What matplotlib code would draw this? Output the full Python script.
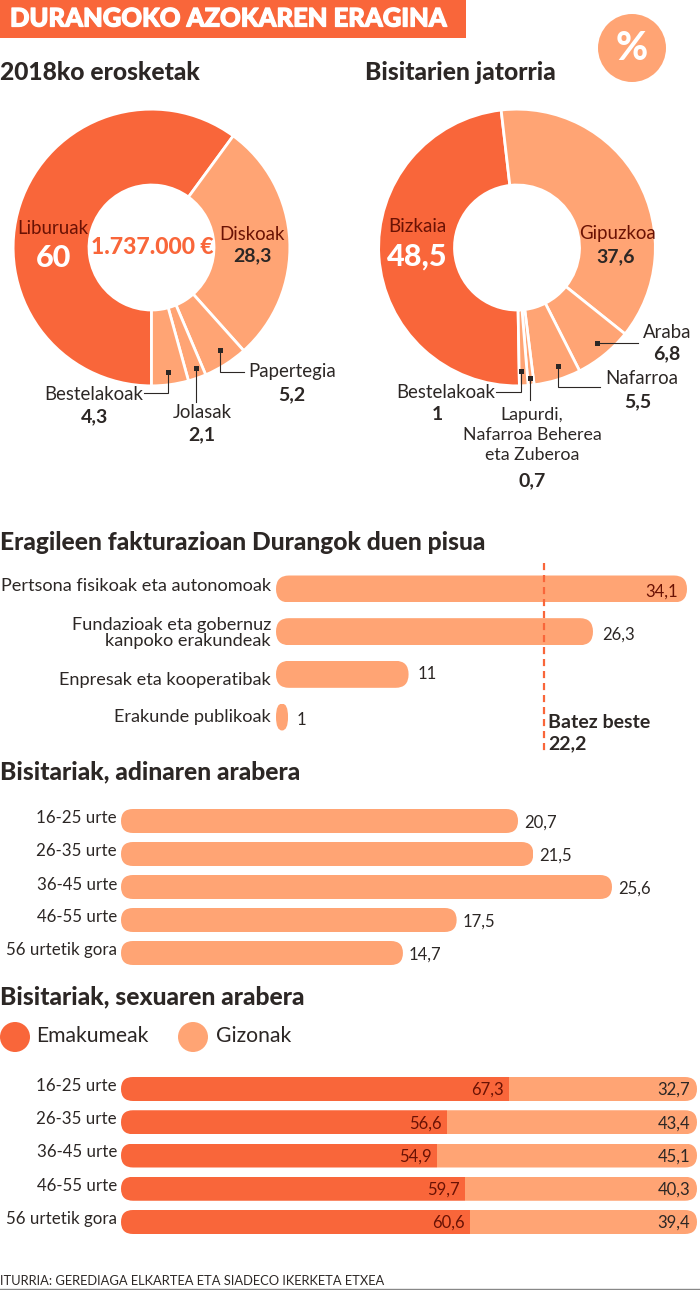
"""Durango fair infographic: two donuts and three rounded bar panels."""
import matplotlib as mpl
mpl.use("Agg")
import matplotlib.pyplot as plt
import matplotlib.patheffects as pe
from matplotlib.patches import Circle, Rectangle
from matplotlib.path import Path

plt.rcParams["font.family"] = ["Lato", "DejaVu Sans"]

W, H = 700, 1290
DARK = "#F9663A"
LIGHT = "#FFA474"
INK = "#2C2725"
RED_INK = "#6A1204"

purchase_labels = ["Liburuak", "Diskoak", "Papertegia", "Jolasak", "Bestelakoak"]
purchase_values = [60, 28.3, 5.2, 2.1, 4.3]
origin_labels = ["Bizkaia", "Gipuzkoa", "Araba", "Nafarroa",
                 "Lapurdi,\nNafarroa Beherea\neta Zuberoa", "Bestelakoak"]
origin_values = [48.5, 37.6, 6.8, 5.5, 0.7, 1]

agent_labels = ["Pertsona fisikoak eta autonomoak",
                "Fundazioak eta gobernuz\nkanpoko erakundeak",
                "Enpresak eta kooperatibak", "Erakunde publikoak"]
agent_values = [34.1, 26.3, 11, 1]
agent_mean = 22.2

age_labels = ["16-25 urte", "26-35 urte", "36-45 urte", "46-55 urte", "56 urtetik gora"]
age_values = [20.7, 21.5, 25.6, 17.5, 14.7]
women_values = [67.3, 56.6, 54.9, 59.7, 60.6]
men_values = [32.7, 43.4, 45.1, 40.3, 39.4]


def fmt(v):
    return f"{v:g}".replace(".", ",")


def axes_px(fig, x0, y0, x1, y1):
    # pixel box, y measured from the top of the figure
    return fig.add_axes([x0 / W, 1 - y1 / H, (x1 - x0) / W, (y1 - y0) / H])


def rounded_path(x0, x1, y, h, rx, ry_frac=0.5):
    rx = min(rx, (x1 - x0) / 2)
    top, bot = y - h / 2, y + h / 2
    ry = h * ry_frac
    verts = [(x0 + rx, top), (x1 - rx, top), (x1, top), (x1, top + ry),
             (x1, bot - ry), (x1, bot), (x1 - rx, bot), (x0 + rx, bot),
             (x0, bot), (x0, bot - ry), (x0, top + ry), (x0, top), (x0 + rx, top)]
    codes = [Path.MOVETO, Path.LINETO, Path.CURVE3, Path.CURVE3, Path.LINETO,
             Path.CURVE3, Path.CURVE3, Path.LINETO, Path.CURVE3, Path.CURVE3,
             Path.LINETO, Path.CURVE3, Path.CURVE3]
    return Path(verts, codes)


def bar_panel(fig, x0, x1, centers, xmax, bar_h, radius=13):
    step = (centers[-1] - centers[0]) / (len(centers) - 1)
    ax = axes_px(fig, x0, centers[0] - step / 2, x1, centers[-1] + step / 2)
    ax.set_xlim(0, xmax)
    ax.set_ylim(len(centers) - 0.5, -0.5)
    ax.axis("off")
    ax.patch.set_alpha(0)
    return ax, bar_h / step, radius * xmax / (x1 - x0)


def rounded_barh(ax, i, left, width, full_left, full_right, h, rx, color):
    bars = ax.barh(i, width, left=left, height=h, color=color, lw=0)
    bars[0].set_clip_path(rounded_path(full_left, full_right, i, h, rx), ax.transData)


def label_left(ov, x, ys, labels, size=13.1):
    for y, lab in zip(ys, labels):
        ov.text(x, y, lab, ha="right", va="center", fontsize=size, color=INK,
                linespacing=1.0)


fig = plt.figure(figsize=(W / 100, H / 100), dpi=100, facecolor="white")

# donuts
for vals, cx, cols, start in [
    (purchase_values, 151.5, [DARK] + [LIGHT] * 4, 270),
    (origin_values, 517, [DARK] + [LIGHT] * 5, 271),
]:
    R = 137.0
    ax = axes_px(fig, cx - 140, 247.5 - 140, cx + 140, 247.5 + 140)
    ax.pie(vals, startangle=start, counterclock=False, colors=cols, radius=1.01,
           wedgeprops=dict(width=1.01 - 62.5 / R, edgecolor="white", linewidth=2.0))
    ax.set_xlim(-140 / R, 140 / R)
    ax.set_ylim(-140 / R, 140 / R)

# agents panel
ax, h, rx = bar_panel(fig, 276, 687, [589, 631.7, 674.3, 717], 34.1, 27)
for i, v in enumerate(agent_values):
    rounded_barh(ax, i, 0, v, 0, v, h, rx, LIGHT)
    if i == 0:
        ax.annotate(fmt(v), (v, i), xytext=(-9, -3), textcoords="offset pixels",
                    ha="right", va="center", fontsize=12, color=RED_INK)
    else:
        ax.annotate(fmt(v), (v, i), xytext=(9, [0, -3, 0, -3][i]), textcoords="offset pixels",
                    ha="left", va="center", fontsize=12, color=INK)
step = 42.67
ax.vlines(agent_mean, (563 - 589) / step, (752 - 589) / step, color=DARK, lw=1.6,
          linestyles=(0, (3.2, 2.2)), clip_on=False)

# age panel
ax, h, rx = bar_panel(fig, 121, 612, [821, 854, 887, 920, 953], 25.6, 24, radius=12)
for i, v in enumerate(age_values):
    rounded_barh(ax, i, 0, v, 0, v, h, rx, LIGHT)
    ax.annotate(fmt(v), (v, i), xytext=(6, -2), textcoords="offset pixels",
                ha="left", va="center", fontsize=12, color=INK)

# sex panel
ax, h, rx = bar_panel(fig, 121, 697, [1089, 1122.25, 1155.5, 1188.75, 1222], 100, 24, radius=12)
for i, (a, b) in enumerate(zip(women_values, men_values)):
    rounded_barh(ax, i, 0, a, 0, a + b, h, rx, DARK)
    rounded_barh(ax, i, a, b, 0, a + b, h, rx, LIGHT)
    ax.annotate(fmt(a), (a, i), xytext=(-5, -1), textcoords="offset pixels",
                ha="right", va="center", fontsize=12, color=RED_INK)
    ax.annotate(fmt(b), (a + b, i), xytext=(-7, -1), textcoords="offset pixels",
                ha="right", va="center", fontsize=12, color=INK)

# everything else sits on a pixel overlay
ov = fig.add_axes([0, 0, 1, 1], zorder=10)
ov.set_xlim(0, W)
ov.set_ylim(H, 0)
ov.axis("off")
ov.patch.set_alpha(0)

ov.add_patch(Rectangle((0, 0), 466, 38, color=DARK, lw=0))
ov.text(10, 18.5, "DURANGOKO AZOKAREN ERAGINA", ha="left", va="center",
        fontsize=18.4, fontweight="black", color="white",
        path_effects=[pe.withStroke(linewidth=0.9, foreground="white")])
ov.add_patch(Circle((632, 48), 34, color=LIGHT, lw=0))
ov.text(632, 48, "%", ha="center", va="center", fontsize=28, fontweight="black", color="white")

for x, y, txt in [(0, 73, "2018ko erosketak"), (365, 73, "Bisitarien jatorria"),
                  (0, 542, "Eragileen fakturazioan Durangok duen pisua"),
                  (0, 772, "Bisitariak, adinaren arabera"),
                  (0, 997, "Bisitariak, sexuaren arabera")]:
    ov.text(x, y, txt, ha="left", va="center", fontsize=17.7, fontweight="black", color=INK)


def pair(x, y, name, value, dy=22, x2=None, col=INK, valcol=INK):
    ov.text(x, y, name, ha="center", va="center", fontsize=13.4, color=col)
    ov.text(x if x2 is None else x2, y + dy, value, ha="center", va="center",
            fontsize=14, fontweight="bold", color=valcol)


# donut 1 texts
ov.text(53, 229, purchase_labels[0], ha="center", va="center", fontsize=13.4, color=RED_INK)
ov.text(54, 258, fmt(purchase_values[0]), ha="center", va="center", fontsize=22,
        fontweight="black", color="white")
ov.text(152, 247, "1.737.000 €", ha="center", va="center", fontsize=16.5,
        fontweight="black", color=DARK)
pair(252, 234, purchase_labels[1], fmt(purchase_values[1]), col=RED_INK)
pair(292, 372, purchase_labels[2], fmt(purchase_values[2]), dy=23)
pair(202, 412, purchase_labels[3], fmt(purchase_values[3]), dy=23)
pair(94, 394, purchase_labels[4], fmt(purchase_values[4]), dy=23)

# donut 2 texts
ov.text(417, 227, origin_labels[0], ha="center", va="center", fontsize=13.6, color=RED_INK)
ov.text(417, 257, fmt(origin_values[0]), ha="center", va="center", fontsize=22,
        fontweight="black", color="white")
pair(618, 233, origin_labels[1], fmt(origin_values[1]), dy=24, x2=616, col=RED_INK)
pair(667, 332, origin_labels[2], fmt(origin_values[2]), dy=22)
pair(642, 379, origin_labels[3], fmt(origin_values[3]), dy=23, x2=638)
pair(446, 392, origin_labels[5], fmt(origin_values[5]), dy=23, x2=437)
ov.text(532, 435, origin_labels[4], ha="center", va="center",
        fontsize=12.8, color=INK, linespacing=1.3)
ov.text(532, 481, fmt(origin_values[4]), ha="center", va="center", fontsize=14,
        fontweight="bold", color=INK)

# leader lines, each starting at a small square dot
leaders = [
    [(168, 372), (168, 393), (144, 393)],
    [(196, 368), (196, 402)],
    [(220, 350), (220, 372), (244, 372)],
    [(597, 343), (638, 343)],
    [(558, 366), (558, 387), (600, 387)],
    [(521, 371), (521, 392), (496, 392)],
    [(530, 378), (530, 400)],
]
for pts in leaders:
    xs, ys = zip(*pts)
    ov.plot(xs, ys, color=INK, lw=0.8, solid_joinstyle="miter")
    ov.plot(xs[0], ys[0], marker="s", ms=3.6, color=INK, mew=0)

# bar labels
label_left(ov, 271, [586, 633, 680, 717], agent_labels)
label_left(ov, 117, [818, 851, 885, 917, 950], age_labels, size=12.2)
label_left(ov, 117, [1086, 1119, 1152, 1186, 1219], age_labels, size=12.2)

ov.text(548, 723, "Batez beste", ha="left", va="center", fontsize=14, fontweight="bold", color=INK)
ov.text(548, 744, fmt(agent_mean), ha="left", va="center", fontsize=14, fontweight="bold", color=INK)

# legend
ov.add_patch(Circle((15, 1037), 15, color=DARK, lw=0))
ov.add_patch(Circle((193, 1037), 15, color=LIGHT, lw=0))
ov.text(36, 1036, "Emakumeak", ha="left", va="center", fontsize=15.2, color=INK)
ov.text(216, 1036, "Gizonak", ha="left", va="center", fontsize=15.2, color=INK)

# source
ov.text(0, 1281, "ITURRIA: GEREDIAGA ELKARTEA ETA SIADECO IKERKETA ETXEA", ha="left",
        va="center", fontsize=9.3, color=INK)
ov.plot([0, W], [1289, 1289], color="#888888", lw=1)

fig.savefig("out.png", dpi=100)
